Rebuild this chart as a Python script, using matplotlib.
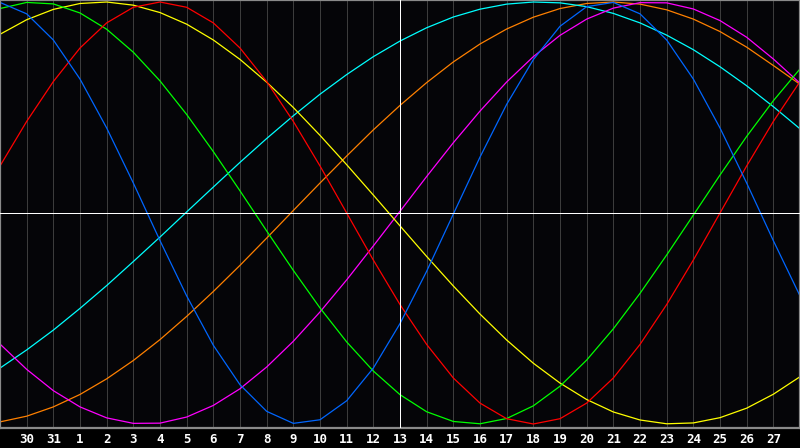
import matplotlib
matplotlib.use('Agg')

import matplotlib.pyplot as plt

# ==========================
# Dados (um valor por dia)
# ==========================
day_labels = ["30", "31"] + [str(d) for d in range(1, 28)]
today_label = "13"

days = list(range(31))

physical = [0.998, 0.944, 0.820, 0.635, 0.403, 0.142, -0.131, -0.393, -0.627, -0.814,
            -0.940, -0.997, -0.980, -0.890, -0.735, -0.524, -0.276, -0.005, 0.265, 0.515,
            0.727, 0.885, 0.978, 0.998, 0.944, 0.820, 0.635, 0.403, 0.142, -0.131, -0.393]

emotional = [0.223, 0.434, 0.623, 0.782, 0.901, 0.975, 1.000, 0.975, 0.901, 0.782,
             0.623, 0.434, 0.223, 0.000, -0.223, -0.434, -0.623, -0.782, -0.901, -0.975,
             -1.000, -0.975, -0.901, -0.782, -0.623, -0.434, -0.223, 0.000, 0.223, 0.434, 0.623]

intellectual = [0.969, 0.998, 0.991, 0.948, 0.871, 0.762, 0.626, 0.467, 0.291, 0.105,
                -0.085, -0.272, -0.450, -0.611, -0.749, -0.861, -0.942, -0.988, -0.999, -0.974,
                -0.914, -0.821, -0.697, -0.549, -0.381, -0.199, -0.010, 0.180, 0.363, 0.532, 0.683]

intuitive = [-0.621, -0.741, -0.842, -0.919, -0.971, -0.997, -0.996, -0.967, -0.912, -0.833,
             -0.730, -0.608, -0.469, -0.317, -0.156, 0.008, 0.173, 0.333, 0.483, 0.621,
             0.741, 0.842, 0.919, 0.971, 0.997, 0.996, 0.967, 0.912, 0.833, 0.730, 0.615]

aesthetic = [0.847, 0.916, 0.965, 0.993, 1.000, 0.985, 0.950, 0.895, 0.820, 0.728,
             0.620, 0.500, 0.368, 0.229, 0.085, -0.061, -0.206, -0.346, -0.479, -0.602,
             -0.712, -0.806, -0.884, -0.943, -0.981, -0.999, -0.995, -0.970, -0.925, -0.859, -0.776]

awareness = [-0.990, -0.963, -0.919, -0.860, -0.786, -0.699, -0.600, -0.490, -0.372, -0.248,
             -0.119, 0.012, 0.142, 0.270, 0.394, 0.510, 0.618, 0.716, 0.801, 0.872,
             0.928, 0.969, 0.993, 1.000, 0.990, 0.963, 0.919, 0.860, 0.786, 0.699, 0.610]

spiritual = [-0.735, -0.649, -0.555, -0.452, -0.344, -0.230, -0.114, 0.005, 0.123, 0.240,
             0.353, 0.461, 0.563, 0.656, 0.741, 0.815, 0.878, 0.929, 0.966, 0.990,
             1.000, 0.996, 0.978, 0.946, 0.901, 0.843, 0.774, 0.693, 0.603, 0.504, 0.399]

series = [
    (awareness, "#ff8000"),
    (spiritual, "#00ffff"),
    (intuitive, "#ff00ff"),
    (aesthetic, "#ffff00"),
    (intellectual, "#00ff00"),
    (emotional, "#ff0000"),
    (physical, "#0066ff"),
]

# ==========================
# Figura
# ==========================
fig = plt.figure(figsize=(8, 4.48), dpi=100, facecolor="#000000")
ax = fig.add_axes([0, 20 / 448, 1, 428 / 448])
ax.set_facecolor("#050508")

ax.set_xlim(0, 30)
ax.set_ylim(-1.019, 1.0095)

# grade vertical
for i in range(1, 30):
    if day_labels[i - 1] == today_label:
        ax.axvline(i, color="white", lw=0.72, zorder=3)
    else:
        ax.axvline(i, color="#3c3c3c", lw=0.72, zorder=1)
ax.axhline(0, color="white", lw=0.72, zorder=3)

for values, color in series:
    ax.plot(days, values, color=color, lw=0.9, zorder=2)

ax.set_xticks([])
ax.set_yticks([])
for s in ax.spines.values():
    s.set_color("#8a8a8a")
    s.set_linewidth(1.6)

# rótulos dos dias
for i, lab in enumerate(day_labels, start=1):
    fig.text(i / 30, 9 / 448, lab, color="white", fontsize=9, fontweight="bold",
             family="DejaVu Sans Mono", ha="center", va="center")

fig.savefig("out.png", dpi=100, facecolor=fig.get_facecolor())
